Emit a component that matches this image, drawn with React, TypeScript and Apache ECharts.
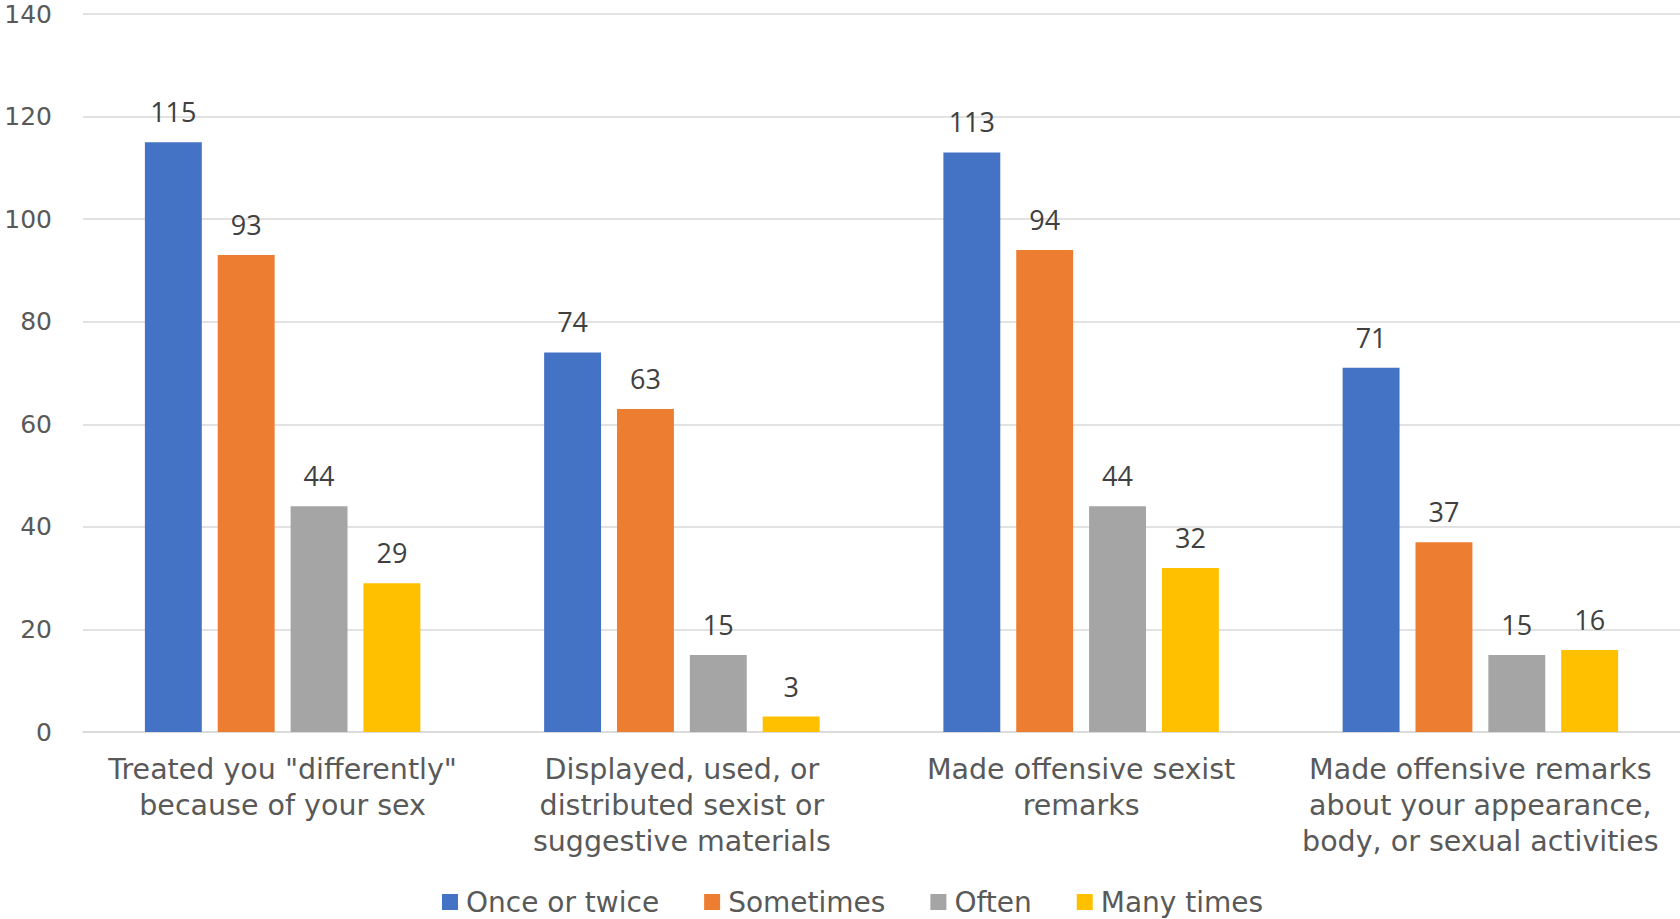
import React, { useEffect, useRef } from "react";
import * as echarts from "echarts";

const categories = [
  'Treated you "differently"\nbecause of your sex',
  "Displayed, used, or\ndistributed sexist or\nsuggestive materials",
  "Made offensive sexist\nremarks",
  "Made offensive remarks\nabout your appearance,\nbody, or sexual activities",
];
const seriesNames = ["Once or twice", "Sometimes", "Often", "Many times"];
const onceOrTwice = [115, 74, 113, 71];
const sometimes = [93, 63, 94, 37];
const often = [44, 15, 44, 15];
const manyTimes = [29, 3, 32, 16];
const colors = ["#4472C4", "#ED7D31", "#A5A5A5", "#FFC000"];

export default function App() {
  const ref = useRef<HTMLDivElement>(null);
  useEffect(() => {
    if (!ref.current) return;
    const chart = echarts.init(ref.current, null, { renderer: "svg" });
    const values = [onceOrTwice, sometimes, often, manyTimes];
    chart.setOption({
      animation: false,
      color: colors,
      grid: { left: 83, right: 0, top: 14, bottom: 187, containLabel: false },
      legend: {
        left: 442,
        top: 886,
        padding: 0,
        itemWidth: 16,
        itemHeight: 16,
        itemGap: 45,
        icon: "rect",
        textStyle: {
          fontFamily: "DejaVu Sans",
          fontSize: 28,
          lineHeight: 32,
          color: "#595959",
          padding: [0, 0, 0, 3],
        },
        data: seriesNames,
      },
      xAxis: {
        type: "category",
        data: categories,
        axisLine: { show: true, lineStyle: { color: "#D9D9D9", width: 1.5 } },
        axisTick: { show: false },
        axisLabel: {
          interval: 0,
          margin: 19,
          fontFamily: "DejaVu Sans",
          fontSize: 28.5,
          lineHeight: 36,
          color: "#595959",
          align: "center",
        },
      },
      yAxis: {
        type: "value",
        min: 0,
        max: 140,
        interval: 20,
        axisLine: { show: false },
        axisTick: { show: false },
        splitLine: { lineStyle: { color: "#D9D9D9", width: 1.5 } },
        axisLabel: {
          margin: 31,
          fontFamily: "DejaVu Sans",
          fontSize: 25,
          color: "#595959",
        },
      },
      series: seriesNames.map((name, i) => ({
        name,
        type: "bar",
        data: values[i],
        barGap: "28%",
        barCategoryGap: "31%",
        itemStyle: { color: colors[i] },
        label: {
          show: true,
          position: "top",
          distance: 17,
          fontFamily: "Open Sans",
          fontSize: 27,
          color: "#404040",
        },
      })),
    });
    return () => chart.dispose();
  }, []);
  return (
    <div
      ref={ref}
      style={{ position: "fixed", left: 0, top: 0, width: 1680, height: 919, background: "#fff" }}
    />
  );
}
